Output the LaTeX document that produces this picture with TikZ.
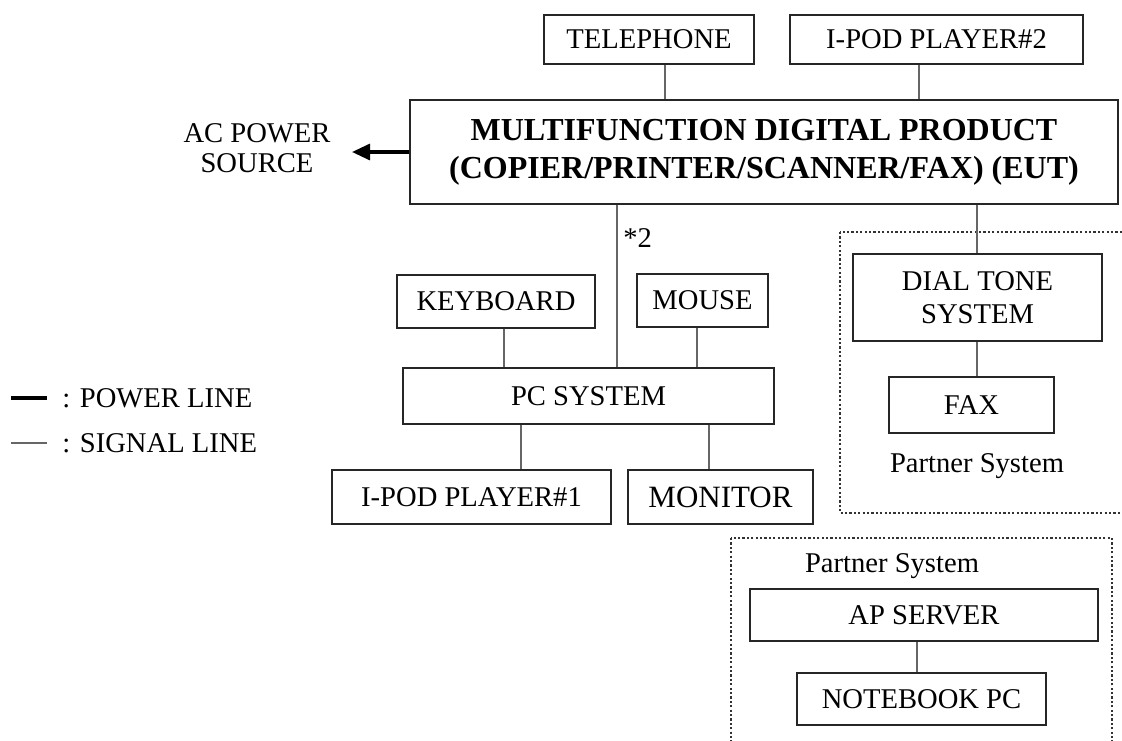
\documentclass[tikz,border=0pt]{standalone}
\usepackage{fontspec}
\setmainfont{Liberation Serif}
\usetikzlibrary{arrows.meta}
\tikzset{
	unit/.style={draw=black!85,line width=0.7pt,inner sep=0pt,font=\fontsize{14.3}{16}\selectfont},
	sig/.style={draw=black!60,line width=0.7pt},
	pwr/.style={draw=black,line width=1.6pt,-{Triangle[length=9pt,width=8pt]}},
	partner/.style={draw=black!80,line width=0.6pt,dash pattern=on 1.1pt off 1.1pt},
	lbl/.style={font=\fontsize{14.3}{16}\selectfont,inner sep=0pt}
}
\begin{document}
\begin{tikzpicture}[x=0.5pt,y=-0.5pt]
		\clip (0,0) rectangle (1122,740);
		
		\draw[partner](840,232) rectangle (1140,513);
		\draw[partner](731,538) rectangle (1112,760);
		
		\node[unit,minimum width=105pt,minimum height=24.5pt] (tel) at (649,39.5) {TELEPHONE};
		\node[unit,minimum width=146.5pt,minimum height=24.5pt] (ipodb) at (936.5,39.5) {I-POD PLAYER\#2};
		\node[unit,minimum width=354pt,minimum height=52pt,align=center,font=\fontsize{16}{19}\selectfont\bfseries] (mfp) at (764,152)
		{MULTIFUNCTION DIGITAL PRODUCT\\(COPIER/PRINTER/SCANNER/FAX) (EUT)};
		
		\node[lbl,align=center,font=\fontsize{14.3}{15}\selectfont] (ac) at (257,148) {AC POWER\\SOURCE};
		
		\node[unit,minimum width=99pt,minimum height=26.5pt] (kbd) at (496,301.5) {KEYBOARD};
		\node[unit,minimum width=65.5pt,minimum height=26.5pt] (mouse) at (702.5,300.5) {MOUSE};
		\node[unit,minimum width=185.5pt,minimum height=28pt] (pc) at (588.5,396) {PC SYSTEM};
		\node[unit,minimum width=139.5pt,minimum height=27pt] (ipoda) at (471.5,497) {I-POD PLAYER\#1};
		\node[unit,minimum width=92.5pt,minimum height=27pt,font=\fontsize{15.5}{17}\selectfont] (mon) at (720.5,497) {MONITOR};
		
		\node[unit,minimum width=124.5pt,minimum height=43.5pt,align=center,font=\fontsize{14.3}{16.5}\selectfont] (dial) at (977.5,297.5) {DIAL TONE\\SYSTEM};
		\node[unit,minimum width=82.5pt,minimum height=28pt] (fax) at (971.5,405) {FAX};
		\node[lbl] (pa) at (977,466) {Partner System};
		
		\node[lbl] (pb) at (892,566) {Partner System};
		\node[unit,minimum width=174pt,minimum height=26pt] (ap) at (924,615) {AP SERVER};
		\node[unit,minimum width=124.5pt,minimum height=26pt] (nb) at (921.5,699) {NOTEBOOK PC};
		
		\coordinate (t1) at (665,0);
		\coordinate (t2) at (919,0);
		\coordinate (t3) at (617,0);
		\coordinate (t4) at (977,0);
		\coordinate (t5) at (504,0);
		\coordinate (t6) at (697,0);
		\coordinate (t7) at (521,0);
		\coordinate (t8) at (709,0);
		\coordinate (t9) at (917,0);
		\coordinate (src) at (352,152);
		
		\draw[sig](tel.south -| t1)--(mfp.north -| t1);
		\draw[sig](ipodb.south -| t2)--(mfp.north -| t2);
		\draw[sig](mfp.south -| t3)--(pc.north -| t3);
		\node[lbl,anchor=west] (note) at (623,238) {*2};
		\draw[sig](mfp.south -| t4)--(dial.north -| t4);
		\draw[sig](dial.south -| t4)--(fax.north -| t4);
		\draw[sig](kbd.south -| t5)--(pc.north -| t5);
		\draw[sig](mouse.south -| t6)--(pc.north -| t6);
		\draw[sig](pc.south -| t7)--(ipoda.north -| t7);
		\draw[sig](pc.south -| t8)--(mon.north -| t8);
		\draw[sig](ap.south -| t9)--(nb.north -| t9);
		
		\draw[pwr](mfp.west |- src)--(src);
		
		\coordinate (lp) at (11,398);
		\coordinate (ls) at (11,443);
		\node[lbl,anchor=west] (leg1) at (62,398) {: POWER LINE};
		\node[lbl,anchor=west] (leg2) at (62,443) {: SIGNAL LINE};
		\draw[black,line width=1.6pt](lp)--++(36,0);
		\draw[sig](ls)--++(36,0);
		
		\end{tikzpicture}
\end{document}
